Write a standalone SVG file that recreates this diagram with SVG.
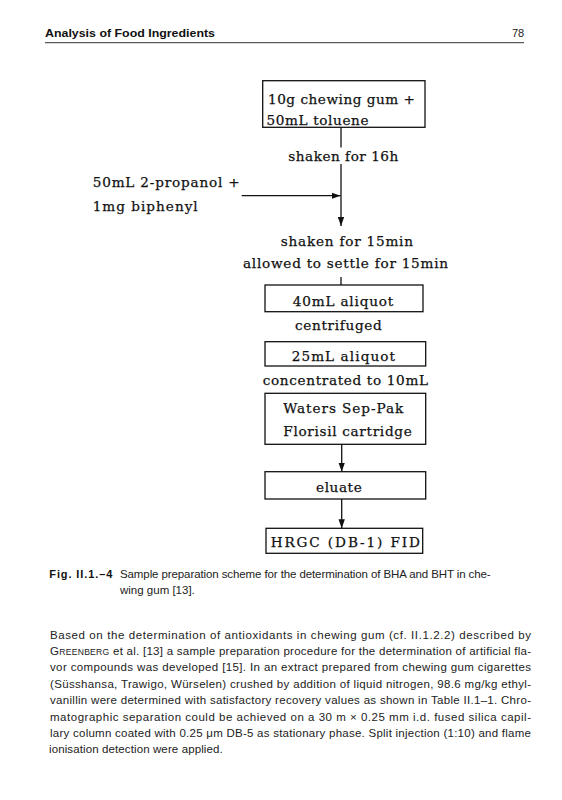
<svg xmlns="http://www.w3.org/2000/svg" width="562" height="800" viewBox="0 0 562 800">
<defs>
<marker id="ah" markerUnits="userSpaceOnUse" markerWidth="10" markerHeight="8" refX="9" refY="4" orient="auto">
<path d="M0,0.8 L9,4 L0,7.2 Z" fill="#111"/>
</marker>
</defs>
<style>
.d{font-family:"DejaVu Serif","Liberation Serif",serif;font-size:13.6px;fill:#111;stroke:#111;stroke-width:0.25}
.b{fill:#fff;stroke:#111;stroke-width:1.3}
.c{stroke:#111;stroke-width:1.3;fill:none}
.t{font-family:"Liberation Sans",Arial,sans-serif;font-size:11.5px;fill:#222}
.h{font-family:"Liberation Sans",Arial,sans-serif;font-size:11px;font-weight:bold;fill:#111}
</style>
<rect width="562" height="800" fill="#fff"/>
<g id="header">
<text class="h" x="45" y="37" textLength="170" lengthAdjust="spacingAndGlyphs">Analysis of Food Ingredients</text>
<text class="t" x="512" y="37" textLength="12" style="font-size:11px">78</text>
<line x1="45" y1="42.7" x2="524" y2="42.7" stroke="#333" stroke-width="1"/>
</g>
<g id="connectors">
<line class="c" x1="341" y1="127" x2="341" y2="147.5"/>
<line class="c" x1="341" y1="164" x2="341" y2="226" marker-end="url(#ah)"/>
<line class="c" x1="241.7" y1="195.7" x2="340.5" y2="195.7" marker-end="url(#ah)"/>
<line class="c" x1="341" y1="277" x2="341" y2="285"/>
<line class="c" x1="341.7" y1="444.3" x2="341.7" y2="471.7" marker-end="url(#ah)"/>
<line class="c" x1="341.7" y1="499" x2="341.7" y2="528.3" marker-end="url(#ah)"/>
</g>
<g id="n1">
<rect class="b" x="262.7" y="80.7" width="162.3" height="46.6"/>
<text class="d" x="268" y="104.3" textLength="147" lengthAdjust="spacing">10g chewing gum +</text>
<text class="d" x="266.5" y="125" textLength="102" lengthAdjust="spacing">50mL toluene</text>
</g>
<g id="s1">
<text class="d" x="288.3" y="160.5" textLength="110" lengthAdjust="spacing">shaken for 16h</text>
</g>
<g id="n2">
<text class="d" x="92.7" y="186.7" textLength="147" lengthAdjust="spacing">50mL 2-propanol +</text>
<text class="d" x="92.7" y="210.5" textLength="105" lengthAdjust="spacing">1mg biphenyl</text>
</g>
<g id="s2">
<text class="d" x="280.7" y="246" textLength="132.3" lengthAdjust="spacing">shaken for 15min</text>
<text class="d" x="243" y="268.3" textLength="205" lengthAdjust="spacing">allowed to settle for 15min</text>
</g>
<g id="n3">
<rect class="b" x="265" y="285" width="158" height="26.7"/>
<text class="d" x="292.7" y="306" textLength="100.6" lengthAdjust="spacing">40mL aliquot</text>
</g>
<g id="s3">
<text class="d" x="295" y="330" textLength="86.7" lengthAdjust="spacing">centrifuged</text>
</g>
<g id="n4">
<rect class="b" x="265" y="341.7" width="160.7" height="24.3"/>
<text class="d" x="291.7" y="360.5" textLength="103.3" lengthAdjust="spacing">25mL aliquot</text>
</g>
<g id="s4">
<text class="d" x="262.7" y="385" textLength="165.3" lengthAdjust="spacing">concentrated to 10mL</text>
</g>
<g id="n5">
<rect class="b" x="265" y="393.3" width="160.7" height="51"/>
<text class="d" x="283.3" y="413.3" textLength="120" lengthAdjust="spacing">Waters Sep-Pak</text>
<text class="d" x="283.3" y="436" textLength="128.4" lengthAdjust="spacing">Florisil cartridge</text>
</g>
<g id="n6">
<rect class="b" x="265" y="471.7" width="160.7" height="27.3"/>
<text class="d" x="316" y="491.7" textLength="45.7" lengthAdjust="spacing">eluate</text>
</g>
<g id="n7">
<rect class="b" x="266" y="528.3" width="156.7" height="25"/>
<text class="d" x="270.7" y="546.7" textLength="149.3" lengthAdjust="spacing">HRGC (DB-1) FID</text>
</g>
<g id="caption">
<text class="h" x="49.3" y="578" textLength="63" lengthAdjust="spacing" style="font-size:11px">Fig. II.1.–4</text>
<text class="t" x="120" y="578" textLength="370.7" lengthAdjust="spacing">Sample preparation scheme for the determination of BHA and BHT in che-</text>
<text class="t" x="120" y="594">wing gum [13].</text>
</g>
<g id="body">
<text class="t" x="50" y="638.5" textLength="481" lengthAdjust="spacing">Based on the determination of antioxidants in chewing gum (cf. II.1.2.2) described by</text>
<text class="t" x="50" y="654.9" textLength="481" lengthAdjust="spacing">G<tspan style="font-size:8.6px">REENBERG</tspan> et al. [13] a sample preparation procedure for the determination of artificial fla-</text>
<text class="t" x="50" y="671.3" textLength="481" lengthAdjust="spacing">vor compounds was developed [15]. In an extract prepared from chewing gum cigarettes</text>
<text class="t" x="50" y="687.7" textLength="481" lengthAdjust="spacing">(Süsshansa, Trawigo, Würselen) crushed by addition of liquid nitrogen, 98.6 mg/kg ethyl-</text>
<text class="t" x="50" y="704.1" textLength="481" lengthAdjust="spacing">vanillin were determined with satisfactory recovery values as shown in Table II.1–1. Chro-</text>
<text class="t" x="50" y="720.5" textLength="481" lengthAdjust="spacing">matographic separation could be achieved on a 30 m × 0.25 mm i.d. fused silica capil-</text>
<text class="t" x="50" y="736.9" textLength="481" lengthAdjust="spacing">lary column coated with 0.25 μm DB-5 as stationary phase. Split injection (1:10) and flame</text>
<text class="t" x="49" y="753.3" textLength="173.7" lengthAdjust="spacing">ionisation detection were applied.</text>
</g>
</svg>
